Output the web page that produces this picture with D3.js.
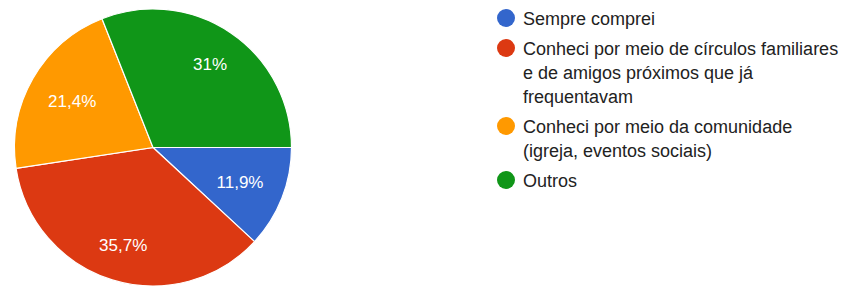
<!DOCTYPE html>
<html>
<head>
<meta charset="utf-8">
<script src="https://cdn.jsdelivr.net/npm/d3@7/dist/d3.min.js"></script>
<style>
  html, body { margin: 0; padding: 0; background: #ffffff; }
  svg { display: block; }
</style>
</head>
<body>
<svg id="chart" width="853" height="286"></svg>
<script>
const categories = [
  ["Sempre comprei"],
  ["Conheci por meio de círculos familiares", "e de amigos próximos que já", "frequentavam"],
  ["Conheci por meio da comunidade", "(igreja, eventos sociais)"],
  ["Outros"]
];
const values = [11.9, 35.7, 21.4, 31];
const labels = ["11,9%", "35,7%", "21,4%", "31%"];
const colors = ["#3366cc", "#dc3912", "#ff9900", "#109618"];

const svg = d3.select("#chart");
const cx = 153, cy = 147.5, R = 138.5;
const font = "Arial, 'Liberation Sans', sans-serif";

const pie = d3.pie().sort(null).value(d => d)
  .startAngle(Math.PI / 2).endAngle(Math.PI / 2 + 2 * Math.PI);
const arcs = pie(values);
const arc = d3.arc().innerRadius(0).outerRadius(R);

const g = svg.append("g").attr("transform", `translate(${cx},${cy})`);
g.selectAll("path.slice").data(arcs).enter().append("path")
  .attr("class", "slice")
  .attr("d", arc)
  .attr("fill", (d, i) => colors[i])
  .attr("stroke", "#ffffff")
  .attr("stroke-width", 1.2);

// slice labels: box pushed out so its outer corner sits at ~0.855R
const labelFs = 17;
const outer = R * 0.855;
g.selectAll("text.lbl").data(arcs).enter().append("text")
  .attr("class", "lbl")
  .attr("font-family", font)
  .attr("font-size", labelFs)
  .attr("fill", "#ffffff")
  .attr("text-anchor", "middle")
  .attr("dy", "0.36em")
  .text((d, i) => labels[i])
  .each(function(d) {
    const w = this.getComputedTextLength();
    const h = labelFs;
    const a = (d.startAngle + d.endAngle) / 2;
    const sx = Math.sin(a), sy = -Math.cos(a);
    const ax = Math.sign(sx) * w / 2, by = Math.sign(sy) * h / 2;
    const p = sx * ax + sy * by;
    const dist = -p + Math.sqrt(p * p - (ax * ax + by * by - outer * outer));
    d3.select(this).attr("x", dist * sx).attr("y", dist * sy);
  });

// legend
const legX = 506, textX = 523, lineH = 24, itemGap = 30;
let y = 18;
const leg = svg.append("g");
categories.forEach((lines, i) => {
  leg.append("circle").attr("cx", legX).attr("cy", y).attr("r", 9).attr("fill", colors[i]);
  lines.forEach((ln, j) => {
    leg.append("text")
      .attr("x", textX)
      .attr("y", y + j * lineH + 7)
      .attr("font-family", font)
      .attr("font-size", 18)
      .attr("fill", "#222222")
      .text(ln);
  });
  y += itemGap + (lines.length - 1) * lineH;
});
</script>
</body>
</html>
